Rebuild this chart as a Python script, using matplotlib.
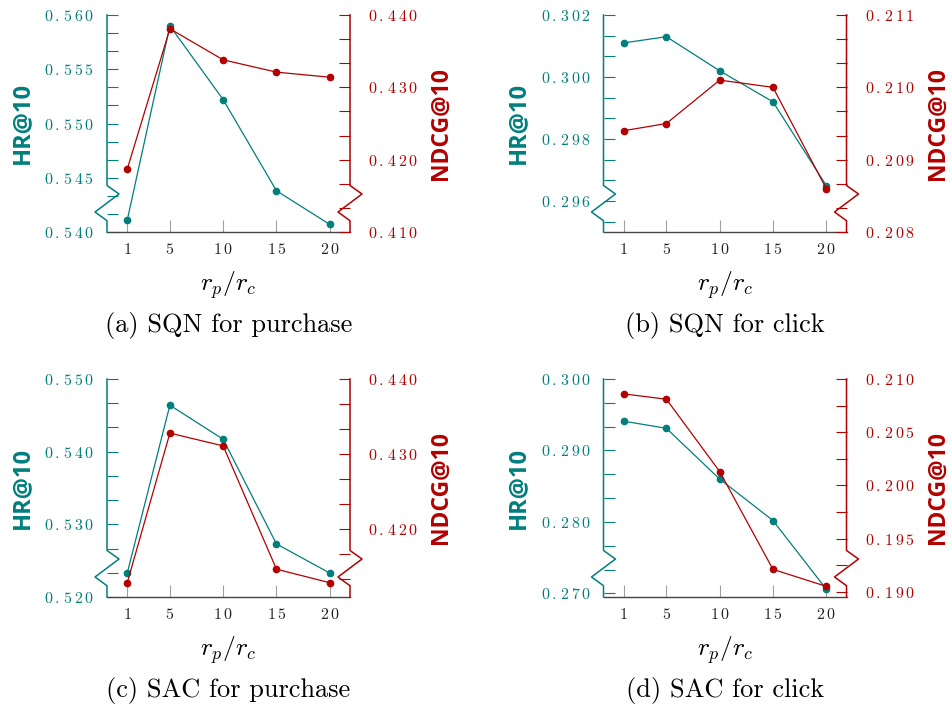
import numpy as np
import matplotlib
matplotlib.use("Agg")
import matplotlib.pyplot as plt
from matplotlib.lines import Line2D

plt.rcParams["mathtext.fontset"] = "cm"

# data
ratios = [1, 5, 10, 15, 20]

sqn_purchase_hr = [0.5411, 0.5590, 0.5522, 0.5438, 0.5407]
sqn_purchase_ndcg = [0.4187, 0.4381, 0.4338, 0.4321, 0.4314]
sqn_click_hr = [0.3011, 0.3013, 0.3002, 0.2992, 0.2965]
sqn_click_ndcg = [0.2094, 0.2095, 0.2101, 0.2100, 0.2086]
sac_purchase_hr = [0.5233, 0.5464, 0.5417, 0.5273, 0.5233]
sac_purchase_ndcg = [0.4129, 0.4328, 0.4311, 0.4147, 0.4129]
sac_click_hr = [0.2941, 0.2931, 0.2860, 0.2802, 0.2706]
sac_click_ndcg = [0.2086, 0.2081, 0.2013, 0.1921, 0.1905]

captions = ["(a) SQN for purchase", "(b) SQN for click",
            "(c) SAC for purchase", "(d) SAC for click"]

TEAL = "#007f7d"
RED = "#b30000"
FW, FH = 952, 712
TICK_FS = 11.5

fig = plt.figure(figsize=(FW / 100, FH / 100), dpi=100)


def spaced(s):
    return "$" + r"\,".join(s) + "$"


def make_ticks(lo, hi, major, n):
    minor = major / n
    ks = np.arange(np.ceil(lo / minor - 1e-6), np.floor(hi / minor + 1e-6) + 1)
    ticks = ks * minor
    labels = []
    for t in ticks:
        r = t / major
        labels.append(spaced(f"{t:.3f}") if abs(r - round(r)) < 1e-6 else "")
    return ticks, labels


def draw_break(ax, side, color, w_px, h_px):
    # zigzag "crunch" on the y axis line, in pixels from the bottom
    pts = [(0, 0), (0, 11.3), (-12, 20), (12, 38), (0, 46.5), (0, h_px)]
    x0 = 0 if side == "left" else 1
    xs = [x0 + dx / w_px for dx, dy in pts]
    ys = [dy / h_px for dx, dy in pts]
    ax.add_line(Line2D(xs, ys, transform=ax.transAxes, color=color, lw=1.1,
                       clip_on=False, zorder=5))


def panel(left, top, w, h, hr, ndcg, hr_lim, hr_step, hr_n,
          nd_lim, nd_step, nd_n, caption):
    ax = fig.add_axes([left / FW, 1 - (top + h) / FH, w / FW, h / FH])
    ax2 = ax.twinx()

    ax.plot(ratios, hr, color=TEAL, lw=0.9, marker="o", ms=4.5, zorder=3)
    ax2.plot(ratios, ndcg, color=RED, lw=0.9, marker="o", ms=4.5, zorder=3)

    ax.set_xlim(-0.9, 21.9)
    ax.set_ylim(*hr_lim)
    ax2.set_ylim(*nd_lim)

    ax.set_xticks(ratios, labels=[spaced(str(r)) for r in ratios])
    t, l = make_ticks(hr_lim[0], hr_lim[1], hr_step, hr_n)
    ax.set_yticks(t, labels=l)
    t, l = make_ticks(nd_lim[0], nd_lim[1], nd_step, nd_n)
    ax2.set_yticks(t, labels=l)

    for s in ["top", "right", "left"]:
        ax.spines[s].set_visible(False)
    for s in ax2.spines.values():
        s.set_visible(False)
    ax.spines["bottom"].set_color("#444444")
    ax.spines["bottom"].set_linewidth(1.0)

    ax.tick_params(axis="x", direction="in", length=8.6, width=0.8,
                   color="#a0a0a0", pad=7.5, labelsize=TICK_FS,
                   labelcolor="#222222")
    ax.tick_params(axis="y", direction="in", length=7.6, width=0.8,
                   color=TEAL, labelcolor=TEAL, pad=9.4, labelsize=TICK_FS)
    ax2.tick_params(axis="y", direction="in", length=7.6, width=0.8,
                    color=RED, labelcolor=RED, pad=13, labelsize=TICK_FS)

    draw_break(ax2, "left", TEAL, w, h)
    draw_break(ax2, "right", RED, w, h)

    cx = left + w / 2
    cy = top + h / 2
    fig.text((left - 85) / FW, 1 - cy / FH, "HR@10", rotation=90, ha="center",
             va="center", color=TEAL, fontsize=17, fontweight="bold",
             family="Open Sans")
    fig.text((left + w + 91) / FW, 1 - cy / FH, "NDCG@10", rotation=90,
             ha="center", va="center", color=RED, fontsize=16.5,
             fontweight="bold", family="Open Sans")
    fig.text(cx / FW, 1 - (top + h + 53) / FH, r"$r_p/r_c$", ha="center",
             va="center", fontsize=18.5)
    fig.text(cx / FW, 1 - (top + h + 94) / FH, caption, ha="center",
             va="center", fontsize=19, family="cmr10")


panel(107, 15, 243, 217, sqn_purchase_hr, sqn_purchase_ndcg,
      (0.540, 0.560), 0.005, 3, (0.410, 0.440), 0.010, 3, captions[0])
panel(603.5, 15, 243, 217, sqn_click_hr, sqn_click_ndcg,
      (0.295, 0.302), 0.002, 3, (0.208, 0.211), 0.001, 3, captions[1])
panel(107, 379, 243, 218, sac_purchase_hr, sac_purchase_ndcg,
      (0.520, 0.550), 0.010, 3, (0.411, 0.440), 0.010, 3, captions[2])
panel(603.5, 379, 243, 218, sac_click_hr, sac_click_ndcg,
      (0.2695, 0.300), 0.010, 3, (0.1895, 0.210), 0.005, 2, captions[3])

fig.savefig("out.png", dpi=100)
